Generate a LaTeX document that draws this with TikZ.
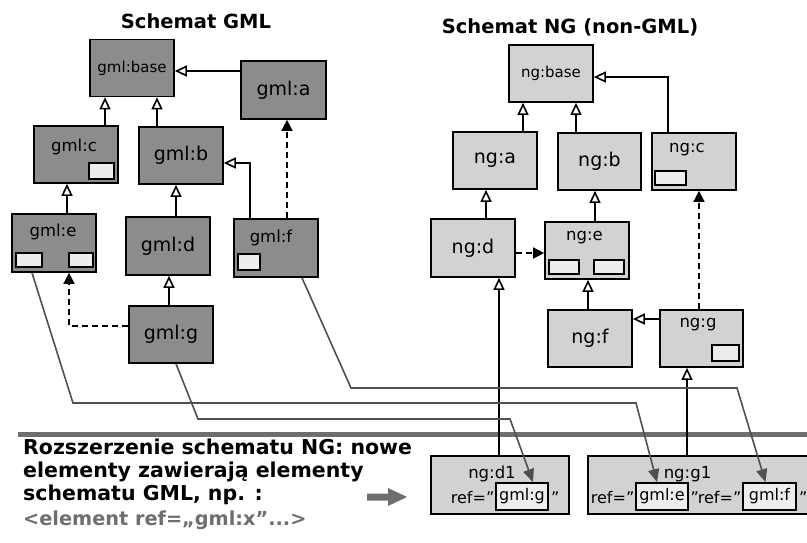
\documentclass[tikz,border=0pt]{standalone}
\usepackage{fontspec}
\setmainfont{DejaVu Sans}
\usetikzlibrary{arrows.meta}
\definecolor{gmlfill}{HTML}{8C8C8C}
\definecolor{ngfill}{HTML}{D2D2D2}
\definecolor{slotfill}{HTML}{EDEDED}
\definecolor{refgray}{HTML}{505050}
\definecolor{sepgray}{HTML}{6E6E6E}
\definecolor{txtgray}{HTML}{6E6E6E}
\begin{document}
\begin{tikzpicture}[x=1pt,y=-1pt,
  box/.style={draw=black, line width=1.7pt, inner sep=0pt, minimum width=84pt, minimum height=57pt},
  gbox/.style={box, fill=gmlfill},
  nbox/.style={box, fill=ngfill},
  big/.style={font=\fontsize{19}{21}\selectfont},
  mid/.style={font=\fontsize{16.5}{18}\selectfont},
  sml/.style={font=\fontsize{15}{17}\selectfont},
  lbl/.style={mid, anchor=base, inner sep=0pt},
  slot/.style={draw=black, line width=1.4pt, fill=slotfill, inner sep=0pt},
  reftxt/.style={font=\fontsize{16}{18}\selectfont, inner sep=0pt},
  refbox/.style={draw=black, line width=1.7pt, fill=slotfill, inner sep=0pt, minimum width=52pt, minimum height=27pt, font=\fontsize{16}{18}\selectfont},
  inh/.style={draw=black, line width=1.6pt, -{Triangle[open, length=12pt, width=11pt, line width=1.6pt]}},
  dep/.style={draw=black, line width=1.6pt, dash pattern=on 6pt off 4pt, -{Triangle[length=11pt, width=11pt]}},
  refl/.style={draw=refgray, line width=1.6pt, -{Triangle[length=13pt, width=11pt]}},
  ttl/.style={font=\bfseries\fontsize{19.5}{22}\selectfont, inner sep=0pt},
  btxt/.style={font=\bfseries\fontsize{20.5}{23}\selectfont, inner sep=0pt, anchor=base west}
]
\useasboundingbox (0,0) rectangle (807,542);

% titles
\node[ttl] (t1) at (196,21) {Schemat GML};
\node[ttl] (t2) at (570,27) {Schemat NG (non-GML)};

% GML schema boxes
\node[gbox, sml] (gbase) at (132,68) {gml:base};
\node[gbox, big, minimum width=85pt, minimum height=58pt] (ga) at (283.5,90) {gml:a};
\node[gbox] (gc) at (76,154.5) {};
\node[gbox, big] (gb) at (181,155.5) {gml:b};
\node[gbox, minimum height=58pt] (ge) at (54,243) {};
\node[gbox, big, minimum height=58pt] (gd) at (168,246) {gml:d};
\node[gbox, minimum height=58pt] (gf) at (276,248) {};
\node[gbox, big] (gg) at (171,334.5) {gml:g};

\node[lbl] (gcl) at (74,151) {gml:c};
\node[lbl] (gel) at (53,236) {gml:e};
\node[lbl] (gfl) at (271,242) {gml:f};
\node[slot, minimum width=25pt, minimum height=16pt] (gcs) at (101.5,171) {};
\node[slot, minimum width=26pt, minimum height=14pt] (ges1) at (29,260) {};
\node[slot, minimum width=24pt, minimum height=14pt] (ges2) at (81,260) {};
\node[slot, minimum width=22pt, minimum height=16pt] (gfs) at (249,262) {};

% NG schema boxes
\node[nbox, sml] (nbase) at (551,73.5) {ng:base};
\node[nbox, big] (na) at (495,160.5) {ng:a};
\node[nbox, big, minimum width=83pt] (nb) at (599.5,161.5) {ng:b};
\node[nbox] (nc) at (694,161.5) {};
\node[nbox, big, minimum height=58pt] (nd) at (473,248) {ng:d};
\node[nbox] (ne) at (587,250.5) {};
\node[nbox, big] (nf) at (590,338.5) {ng:f};
\node[nbox, minimum width=83pt] (ngg) at (701.5,338.5) {};

\node[lbl] (ncl) at (687,152) {ng:c};
\node[lbl] (nel) at (584.5,240) {ng:e};
\node[lbl] (ngl) at (698,327) {ng:g};
\node[slot, minimum width=31pt, minimum height=14pt] (ncs) at (670.5,178) {};
\node[slot, minimum width=30pt, minimum height=14pt] (nes1) at (564,267) {};
\node[slot, minimum width=30pt, minimum height=14pt] (nes2) at (609,267) {};
\node[slot, minimum width=27pt, minimum height=16pt] (ngs) at (725.5,353) {};

% separator
\fill[sepgray] (18,432) rectangle (807,437);

% extension boxes
\node[nbox, minimum width=138pt, minimum height=58pt] (nd1) at (500,485) {};
\node[nbox, minimum width=222pt, minimum height=58pt] (ng1) at (699,485) {};
\node[lbl] (nd1l) at (492,478) {ng:d1};
\node[lbl] (ng1l) at (687.5,478) {ng:g1};

\node[reftxt, anchor=base east] (r1a) at (494.5,503) {ref=”};
\node[refbox] (refg) at (522,496.5) {gml:g};
\node[reftxt, anchor=base west] (r1b) at (551,503) {”};

\node[reftxt, anchor=base east] (r2a) at (634.5,503) {ref=”};
\node[refbox] (refe) at (662,496.5) {gml:e};
\node[reftxt, anchor=base west] (r2b) at (690.5,503) {”};
\node[reftxt, anchor=base east] (r3a) at (741.5,503) {ref=”};
\node[refbox, minimum width=53pt] (reff) at (769.5,496.5) {gml:f};
\node[reftxt, anchor=base west] (r3b) at (799,503) {”};

% GML inheritance
\draw[inh] ([xshift=29pt]gc.north) -- ([xshift=29pt]gc.north |- gbase.south);
\draw[inh] ([xshift=-24pt]gb.north) -- ([xshift=-24pt]gb.north |- gbase.south);
\draw[inh] ([yshift=19pt]ga.west) -- ([yshift=19pt]ga.west -| gbase.east);
\draw[inh] ([xshift=13pt]ge.north) -- ([xshift=13pt]ge.north |- gc.south);
\draw[inh] ([xshift=8pt]gd.north) -- ([xshift=8pt]gd.north |- gb.south);
\draw[inh] ([xshift=-26pt]gf.north) |- ([yshift=-7.5pt]gb.east);
\draw[dep] ([xshift=11pt]gf.north) -- ([xshift=11pt]gf.north |- ga.south);
\draw[inh] ([xshift=-2pt]gg.north) -- ([xshift=-2pt]gg.north |- gd.south);
\draw[dep] ([yshift=8.5pt]gg.west) -| ([xshift=15pt]ge.south);

% NG inheritance
\draw[inh] ([xshift=28pt]na.north) -- ([xshift=28pt]na.north |- nbase.south);
\draw[inh] ([xshift=-23.5pt]nb.north) -- ([xshift=-23.5pt]nb.north |- nbase.south);
\draw[inh] ([xshift=-26pt]nc.north) |- ([yshift=-3.5pt]nbase.east);
\draw[inh] ([xshift=13pt]nd.north) -- ([xshift=13pt]nd.north |- na.south);
\draw[inh] ([xshift=8pt]ne.north) -- ([xshift=8pt]ne.north |- nb.south);
\draw[dep] ([yshift=-5pt]nd.east) -- ([yshift=-5pt]nd.east -| ne.west);
\draw[inh] ([xshift=-2pt]nf.north) -- ([xshift=-2pt]nf.north |- ne.south);
\draw[inh] ([yshift=19.5pt]ngg.west) -- ([yshift=19.5pt]ngg.west -| nf.east);
\draw[dep] ([xshift=-2.5pt]ngg.north) -- ([xshift=-2.5pt]ngg.north |- nc.south);
\draw[inh] ([xshift=-1pt]nd1.north) -- ([xshift=-1pt]nd1.north |- nd.south);
\draw[inh] ([xshift=-12pt]ng1.north) -- ([xshift=-12pt]ng1.north |- ngg.south);

% references
\draw[refl] ([xshift=-22pt]ge.south) -- (73,403) -- (636,403) -- ([xshift=-5pt]refe.north);
\draw[refl] ([xshift=5pt]gg.south) -- (198,419) -- (510,419) -- ([xshift=11pt]refg.north);
\draw[refl] ([xshift=26pt]gf.south) -- (351,388) -- (737,388) -- ([xshift=-4pt]reff.north);

% bottom text
\node[btxt] (b1) at (23,454) {Rozszerzenie schematu NG: nowe};
\node[btxt] (b2) at (23,477) {elementy zawierają elementy};
\node[btxt] (b3) at (23,500) {schematu GML, np. :};
\node[btxt, text=txtgray, font=\bfseries\fontsize{19.3}{23}\selectfont] (b4) at (23,525) {<element ref=„gml:x”...>};

\fill[sepgray] (367,493.5) -- (388,493.5) -- (388,488) -- (407,497) -- (388,506) -- (388,500.5) -- (367,500.5) -- cycle;
\end{tikzpicture}
\end{document}
